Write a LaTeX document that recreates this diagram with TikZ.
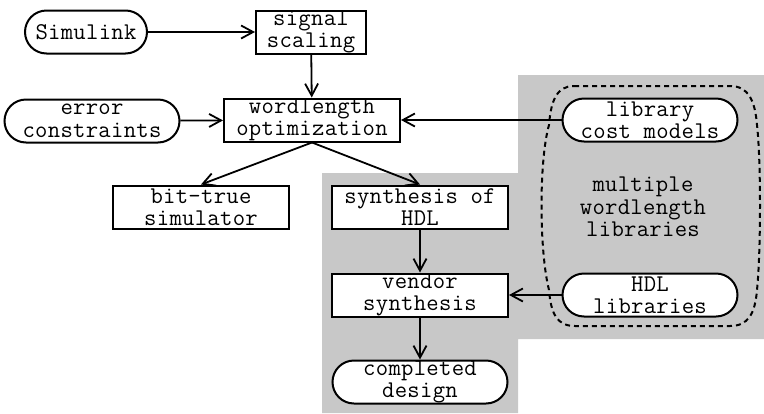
\documentclass[tikz,border=0pt]{standalone}
\usepackage{fontspec}
\setmonofont[LetterSpace=1.2]{Latin Modern Mono}
\usetikzlibrary{arrows.meta,shapes.misc}
\definecolor{bggray}{RGB}{200,200,200}
\begin{document}
\begin{tikzpicture}[x=1pt,y=-1pt,
 lbl/.style={inner sep=0pt,align=center,font=\ttfamily\fontsize{24}{22.5}\selectfont},
 box/.style={lbl,draw,line width=2pt,fill=white,minimum height=43pt,minimum width=176pt},
 term/.style={box,rounded rectangle},
 arr/.style={line width=1.8pt,-{Straight Barb[length=12pt,width=13pt,line width=1.8pt]}}]
\useasboundingbox (0,0) rectangle (764,413);
\fill[bggray] (322,413) -- (322,173) -- (518,173) -- (518,75) -- (764,75) -- (764,339) -- (518,339) -- (518,413) -- cycle;
\draw[line width=2pt,dash pattern=on 5pt off 4pt]
  (574,86) -- (730,86) .. controls (748,86) and (755,100) .. (757,125)
  .. controls (761,160) and (761,250) .. (757,290)
  .. controls (755,314) and (748,326) .. (730,326) -- (575,326)
  .. controls (557,326) and (551,314) .. (549,290)
  .. controls (539,250) and (539,160) .. (549,125)
  .. controls (551,100) and (557,86) .. (574,86) -- cycle;
\node[term,minimum width=122pt] (sim) at (86,32) {Simulink};
\node[box,minimum width=110pt] (sig) at (311,32) {signal\\scaling};
\node[term,minimum width=175pt] (err) at (92,121) {error\\constraints};
\node[box] (wlo) at (312,120) {wordlength\\optimization};
\node[term,minimum width=175pt] (lcm) at (650,120) {library\\cost models};
\node[term,minimum width=175pt] (hdl) at (650,295) {HDL\\libraries};
\node[lbl] (mwl) at (643,207) {multiple\\wordlength\\libraries};
\node[box] (bit) at (201,207) {bit-true\\simulator};
\node[box] (syn) at (420,207) {synthesis of\\HDL};
\node[box] (ven) at (420,295) {vendor\\synthesis};
\node[term,minimum width=175pt] (cmp) at (420,382) {completed\\design};
\draw[arr] (sim) -- (sig);
\draw[arr] (sig) -- (wlo);
\draw[arr] (err) -- (wlo);
\draw[arr] (lcm) -- (wlo);
\draw[arr] (wlo.south) -- (bit.north);
\draw[arr] (wlo.south) -- (syn.north);
\draw[arr] (syn) -- (ven);
\draw[arr] (ven) -- (cmp);
\draw[arr] (hdl) -- (ven);
\end{tikzpicture}
\end{document}
